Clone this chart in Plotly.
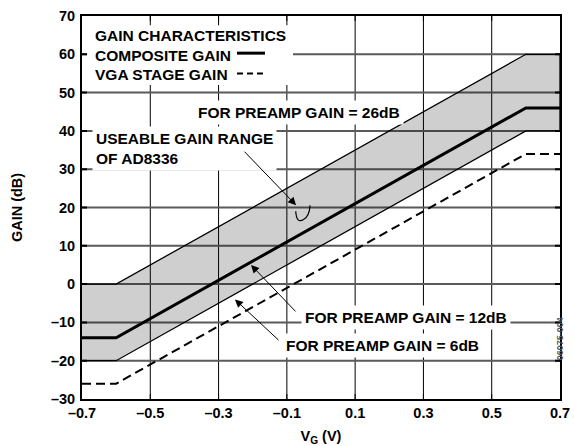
import plotly.graph_objects as go

# ---- data ----
vg = [-0.7, -0.6, 0.6, 0.7]
gain_preamp26 = [0, 0, 60, 60]
gain_composite12 = [-14, -14, 46, 46]
gain_preamp6 = [-20, -20, 40, 40]
gain_vga = [-26, -26, 34, 34]

x_ticks = [-0.7, -0.5, -0.3, -0.1, 0.1, 0.3, 0.5, 0.7]
x_ticktext = ["–0.7", "–0.5", "–0.3", "–0.1", "0.1", "0.3", "0.5", "0.7"]
y_ticks = [-30, -20, -10, 0, 10, 20, 30, 40, 50, 60, 70]
y_ticktext = ["–30", "–20", "–10", "0", "10", "20", "30", "40", "50", "60", "70"]

FAM = "Liberation Sans, Arial, sans-serif"
BOLD = dict(family=FAM, size=15.5, color="black", weight="bold")
TICK = dict(family=FAM, size=14.5, color="black", weight="bold")

fig = go.Figure()

band_x = vg + vg[::-1]
band_y = gain_preamp26 + gain_preamp6[::-1]
fig.add_trace(go.Scatter(x=band_x, y=band_y, mode="lines", fill="toself",
                         fillcolor="rgba(0,0,0,0.19)",
                         line=dict(color="black", width=1.3),
                         showlegend=False, hoverinfo="skip"))
fig.add_trace(go.Scatter(x=vg, y=gain_vga, mode="lines",
                         line=dict(color="black", width=2, dash="9px,5px"),
                         showlegend=False))
fig.add_trace(go.Scatter(x=vg, y=gain_composite12, mode="lines",
                         line=dict(color="black", width=3), showlegend=False))

shapes = [
    dict(type="rect", xref="x", yref="y", x0=-0.685, x1=-0.082, y0=52.0, y1=67.6,
         fillcolor="white", line=dict(width=0), layer="above"),
    dict(type="line", xref="x", yref="y", x0=-0.246, x1=-0.164, y0=60.3, y1=60.3,
         line=dict(color="black", width=3), layer="above"),
    dict(type="line", xref="x", yref="y", x0=-0.246, x1=-0.17, y0=55.0, y1=55.0,
         line=dict(color="black", width=2, dash="6px,4px"), layer="above"),
    dict(type="path", xref="x", yref="y",
         path="M -0.074 19.0 Q -0.072 15.8 -0.052 16.8 Q -0.034 17.6 -0.032 20.6",
         line=dict(color="black", width=1.2), layer="above"),
]

annotations = [
    dict(text="GAIN CHARACTERISTICS", x=-0.668, y=64.8),
    dict(text="COMPOSITE GAIN", x=-0.668, y=59.8),
    dict(text="VGA STAGE GAIN", x=-0.668, y=54.8),
    dict(text="FOR PREAMP GAIN = 26dB", x=-0.372, y=44.8, bgcolor="white", borderpad=3),
    dict(text="USEABLE GAIN RANGE<br>OF AD8336", x=-0.672, y=35.4, bgcolor="white",
         borderpad=3),
    dict(text="FOR PREAMP GAIN = 12dB", x=-0.059, y=-8.6, bgcolor="white", borderpad=3),
    dict(text="FOR PREAMP GAIN = 6dB", x=-0.114, y=-15.9, bgcolor="white", borderpad=3),
]
for a in annotations:
    a.update(xref="x", yref="y", xanchor="left", yanchor="middle", showarrow=False,
             font=BOLD, align="left")

arrows = [
    dict(x=-0.073, y=20.6, ax=-53, ay=-55),
    dict(x=-0.205, y=5.0, ax=46, ay=48),
    dict(x=-0.252, y=-4.0, ax=45, ay=42),
]
for a in arrows:
    a.update(xref="x", yref="y", text="", showarrow=True, arrowhead=2,
             arrowsize=1.6, arrowwidth=1, arrowcolor="black")

annotations += arrows
annotations.append(dict(text="06075-004", xref="paper", yref="paper", x=1.0146, y=0.097,
                        textangle=-90, showarrow=False,
                        font=dict(family=FAM, size=9, color="#555555")))

fig.update_layout(
    template="none",
    width=574, height=446,
    margin=dict(l=82, r=14, t=16, b=47, autoexpand=False),
    paper_bgcolor="white", plot_bgcolor="white",
    font=dict(family=FAM, color="black", weight="bold"),
    shapes=shapes, annotations=annotations, showlegend=False,
)
axis_common = dict(
    automargin=False, tickmode="array", showgrid=True,
    showline=True, linecolor="black", linewidth=2, mirror="allticks",
    ticks="inside", ticklen=5, tickcolor="black",
    tickfont=TICK, zeroline=False,
)
fig.update_xaxes(range=[-0.7, 0.7], tickvals=x_ticks, ticktext=x_ticktext,
                 gridcolor="black", gridwidth=1, tickwidth=1,
                 title=dict(text="V<sub>G</sub> (V)", font=TICK, standoff=10),
                 **axis_common)
fig.update_yaxes(range=[-30, 70], tickvals=y_ticks, ticktext=y_ticktext,
                 gridcolor="#5a5a5a", gridwidth=2, tickwidth=2, ticklabelstandoff=2,
                 title=dict(text="GAIN (dB)", font=TICK, standoff=25),
                 **axis_common)

post = (
    "document.body.style.margin='0';"
    "document.querySelectorAll('.crisp').forEach(function(e){"
    "e.style.shapeRendering='geometricPrecision';});"
)
fig.write_html("out.html", config={"displayModeBar": False}, post_script=post)
